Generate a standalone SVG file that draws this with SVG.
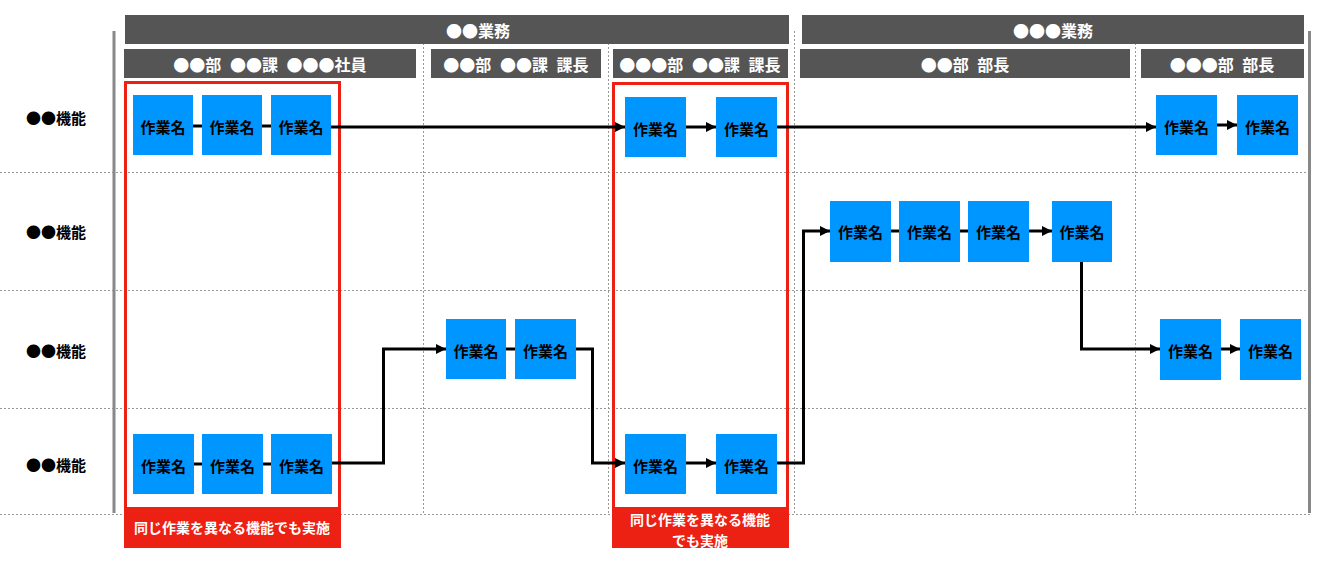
<svg xmlns="http://www.w3.org/2000/svg" width="1320" height="561" viewBox="0 0 1320 561">
<style>
text{font-family:"Noto Sans CJK JP","Noto Sans",sans-serif;font-weight:bold;dominant-baseline:central}
.hdr{fill:#555555}
.ht{fill:#ffffff;font-size:16px;text-anchor:middle}
.st{fill:#ffffff;font-size:16px;text-anchor:middle;word-spacing:5px}
.rl{fill:#000000;font-size:15px}
.box{fill:#0096ff}
.bt{fill:#000000;font-size:15px;text-anchor:middle}
.grid{stroke:#999999;stroke-width:1;stroke-dasharray:2,2;fill:none}
.edge{stroke:#888888;stroke-width:3}
.red{fill:none;stroke:#ec2013;stroke-width:3}
.redfill{fill:#ec2013}
.lt{fill:#ffffff;font-size:14px;text-anchor:middle}
.c{fill:none;stroke:#000000;stroke-width:3}
</style>
<defs>
<marker id="ah" markerUnits="userSpaceOnUse" markerWidth="11" markerHeight="11" refX="10" refY="5" orient="auto">
<path d="M0,0 L10,5 L0,10 z" fill="#000000"/>
</marker>
</defs>
<g id="grid">
<line class="grid" x1="0" y1="172.5" x2="1310" y2="172.5"/>
<line class="grid" x1="0" y1="290.5" x2="1310" y2="290.5"/>
<line class="grid" x1="0" y1="408.5" x2="1310" y2="408.5"/>
<line class="grid" x1="0" y1="514.5" x2="1310" y2="514.5"/>
<line class="grid" x1="423.5" y1="31" x2="423.5" y2="515"/>
<line class="grid" x1="608.5" y1="31" x2="608.5" y2="515"/>
<line class="grid" x1="794.5" y1="31" x2="794.5" y2="515"/>
<line class="grid" x1="1135.5" y1="31" x2="1135.5" y2="515"/>
<line class="edge" x1="114" y1="31" x2="114" y2="513"/>
<line class="edge" x1="1309.5" y1="31" x2="1309.5" y2="513"/>
</g>
<g id="headers">
<rect class="hdr" x="125" y="15" width="664" height="29"/>
<text class="ht" x="478" y="30">●●業務</text>
<rect class="hdr" x="802" y="15" width="502" height="29"/>
<text class="ht" x="1053" y="30">●●●業務</text>
<rect class="hdr" x="124" y="49" width="292" height="29"/>
<text class="st" x="270" y="64">●●部 ●●課 ●●●社員</text>
<rect class="hdr" x="431" y="49" width="170" height="29"/>
<text class="st" x="516" y="64">●●部 ●●課 課長</text>
<rect class="hdr" x="613" y="49" width="175" height="29"/>
<text class="st" x="700" y="64">●●●部 ●●課 課長</text>
<rect class="hdr" x="800" y="49" width="330" height="29"/>
<text class="st" x="965" y="64">●●部 部長</text>
<rect class="hdr" x="1141" y="49" width="163" height="29"/>
<text class="st" x="1222" y="64">●●●部 部長</text>
</g>
<g id="rowlabels">
<text class="rl" x="26" y="117">●●機能</text>
<text class="rl" x="26" y="231">●●機能</text>
<text class="rl" x="26" y="350">●●機能</text>
<text class="rl" x="26" y="464">●●機能</text>
</g>
<g id="highlight1">
<rect class="red" x="125.5" y="82.5" width="214" height="426"/>
<rect class="redfill" x="124" y="507" width="217" height="41"/>
<text class="lt" x="232" y="527">同じ作業を異なる機能でも実施</text>
</g>
<g id="highlight2">
<rect class="red" x="613.5" y="83.5" width="174" height="425"/>
<rect class="redfill" x="612" y="508" width="177" height="40"/>
<text class="lt" x="700" y="519">同じ作業を異なる機能</text>
<text class="lt" x="700" y="540">でも実施</text>
</g>
<g id="connectors">
<line class="c" x1="193" y1="126" x2="202" y2="126"/>
<line class="c" x1="262" y1="126" x2="271" y2="126"/>
<line class="c" x1="331" y1="127" x2="625" y2="127" marker-end="url(#ah)"/>
<line class="c" x1="686" y1="127" x2="716" y2="127" marker-end="url(#ah)"/>
<line class="c" x1="777" y1="127" x2="1156" y2="127" marker-end="url(#ah)"/>
<line class="c" x1="1217" y1="125" x2="1237" y2="125" marker-end="url(#ah)"/>
<line class="c" x1="891" y1="231" x2="899" y2="231"/>
<line class="c" x1="960" y1="231" x2="968" y2="231"/>
<line class="c" x1="1029" y1="231" x2="1052" y2="231" marker-end="url(#ah)"/>
<polyline class="c" points="1081.5,262 1081.5,349 1160,349" marker-end="url(#ah)"/>
<line class="c" x1="1221" y1="349" x2="1240" y2="349" marker-end="url(#ah)"/>
<line class="c" x1="194" y1="464" x2="202" y2="464"/>
<line class="c" x1="263" y1="464" x2="271" y2="464"/>
<polyline class="c" points="332,463 383.5,463 383.5,349 446,349" marker-end="url(#ah)"/>
<line class="c" x1="506" y1="349" x2="515" y2="349"/>
<polyline class="c" points="576,349 592.5,349 592.5,463 625,463" marker-end="url(#ah)"/>
<line class="c" x1="686" y1="463" x2="716" y2="463" marker-end="url(#ah)"/>
<polyline class="c" points="777,463 803.5,463 803.5,231 830,231" marker-end="url(#ah)"/>
</g>
<g id="n1"><rect class="box" x="133" y="95" width="60" height="60"/><text class="bt" x="163" y="126">作業名</text></g>
<g id="n2"><rect class="box" x="202" y="95" width="60" height="60"/><text class="bt" x="232" y="126">作業名</text></g>
<g id="n3"><rect class="box" x="271" y="95" width="60" height="60"/><text class="bt" x="301" y="126">作業名</text></g>
<g id="n4"><rect class="box" x="625" y="97" width="61" height="60"/><text class="bt" x="655.5" y="128">作業名</text></g>
<g id="n5"><rect class="box" x="716" y="97" width="61" height="60"/><text class="bt" x="746.5" y="128">作業名</text></g>
<g id="n6"><rect class="box" x="1156" y="95" width="61" height="60"/><text class="bt" x="1186.5" y="126">作業名</text></g>
<g id="n7"><rect class="box" x="1237" y="95" width="61" height="60"/><text class="bt" x="1267.5" y="126">作業名</text></g>
<g id="n8"><rect class="box" x="830" y="201" width="61" height="61"/><text class="bt" x="860.5" y="231">作業名</text></g>
<g id="n9"><rect class="box" x="899" y="201" width="61" height="61"/><text class="bt" x="929.5" y="231">作業名</text></g>
<g id="n10"><rect class="box" x="968" y="201" width="61" height="61"/><text class="bt" x="998.5" y="231">作業名</text></g>
<g id="n11"><rect class="box" x="1052" y="201" width="60" height="61"/><text class="bt" x="1082" y="231">作業名</text></g>
<g id="n12"><rect class="box" x="446" y="319" width="60" height="60"/><text class="bt" x="476" y="350">作業名</text></g>
<g id="n13"><rect class="box" x="515" y="319" width="61" height="60"/><text class="bt" x="545.5" y="350">作業名</text></g>
<g id="n14"><rect class="box" x="1160" y="319" width="61" height="61"/><text class="bt" x="1190.5" y="350">作業名</text></g>
<g id="n15"><rect class="box" x="1240" y="319" width="61" height="61"/><text class="bt" x="1270.5" y="350">作業名</text></g>
<g id="n16"><rect class="box" x="133" y="434" width="61" height="60"/><text class="bt" x="163.5" y="465">作業名</text></g>
<g id="n17"><rect class="box" x="202" y="434" width="61" height="60"/><text class="bt" x="232.5" y="465">作業名</text></g>
<g id="n18"><rect class="box" x="271" y="434" width="61" height="60"/><text class="bt" x="301.5" y="465">作業名</text></g>
<g id="n19"><rect class="box" x="625" y="434" width="61" height="60"/><text class="bt" x="655.5" y="465">作業名</text></g>
<g id="n20"><rect class="box" x="716" y="434" width="61" height="60"/><text class="bt" x="746.5" y="465">作業名</text></g>
</svg>
